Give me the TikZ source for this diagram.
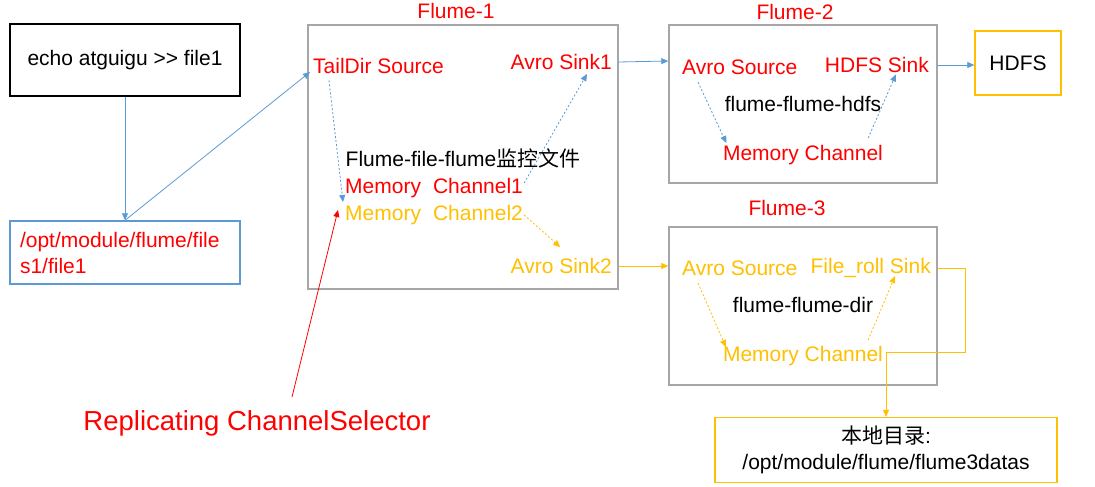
\documentclass[tikz,border=0pt]{standalone}
\usepackage{fontspec}
\setmainfont{Liberation Sans}
\newfontfamily\cjk{Noto Sans CJK SC}
\usetikzlibrary{arrows.meta}
\definecolor{fred}{HTML}{FF0000}
\definecolor{forange}{HTML}{FFC000}
\definecolor{fblue}{HTML}{5B9BD5}
\definecolor{fgray}{HTML}{A6A6A6}
\tikzset{
  lbl/.style={font=\fontsize{21}{26}\selectfont, inner sep=0pt},
  tip/.style={-{Triangle[length=7pt,width=6pt]}},
  bline/.style={draw=fblue, line width=0.8pt, tip},
  oline/.style={draw=forange, line width=0.8pt, tip},
  bdash/.style={bline, dash pattern=on 2pt off 2pt},
  odash/.style={oline, dash pattern=on 2pt off 2pt},
  graybox/.style={draw=fgray, line width=1.4pt, minimum width=#1, inner sep=0pt},
  obox/.style={draw=forange, line width=1.4pt, inner sep=0pt},
}
\begin{document}
\begin{tikzpicture}[x=1pt,y=-1pt]
\useasboundingbox[fill=white] (0,0) rectangle (1095,487);

% left boxes
\node[draw=black, line width=1.1pt, minimum width=230pt, minimum height=72pt, lbl] (echo) at (125,60) {echo atguigu >{}> file1};
\node[draw=fblue, line width=1.4pt, minimum width=230pt, minimum height=63pt, lbl, text=fred, align=left, text width=210pt] (file) at (125,252.5) {/opt/module/flume/file\\s1/file1};

% Flume-1
\node[graybox=310pt, minimum height=264pt] (f1) at (463,157) {};
\node[lbl, text=fred] (f1lab) at (456,11) {Flume-1};
\node[lbl, text=fred, anchor=west] (tail) at (313,66) {TailDir Source};
\node[lbl, text=fred, anchor=east] (as1) at (612,62) {Avro Sink1};
\node[lbl] (f1t) at (463,158) {Flume-file-flume{\cjk 监控文件}};
\node[lbl, text=fred, anchor=west] (mc1) at (345,188) {Memory\hspace{12pt}Channel1};
\node[lbl, text=forange, anchor=west] (mc2) at (345,215) {Memory\hspace{12pt}Channel2};
\node[lbl, text=forange, anchor=east] (as2) at (612,266) {Avro Sink2};

% Flume-2
\node[graybox=268pt, minimum height=158pt] (f2) at (803,104) {};
\node[lbl, text=fred] (f2lab) at (795,12) {Flume-2};
\node[lbl, text=fred, anchor=west] (avs2) at (682,67) {Avro Source};
\node[lbl, text=fred, anchor=east] (hs) at (929,65) {HDFS Sink};
\node[lbl] (f2t) at (803,104) {flume-flume-hdfs};
\node[lbl, text=fred] (mcf2) at (803,155) {Memory Channel};
\node[obox, minimum width=86pt, minimum height=64pt, lbl] (hdfs) at (1018,63) {HDFS};

% Flume-3
\node[graybox=268pt, minimum height=158pt] (f3) at (803,306) {};
\node[lbl, text=fred] (f3lab) at (787,208) {Flume-3};
\node[lbl, text=forange, anchor=west] (avs3) at (682,268) {Avro Source};
\node[lbl, text=forange, anchor=east] (fr) at (931,268) {File\_roll Sink};
\node[lbl] (f3t) at (803,305) {flume-flume-dir};
\node[lbl, text=forange] (mcf3) at (803,356) {Memory Channel};
\node[obox, minimum width=342pt, minimum height=65pt, lbl, align=center] (local) at (886,450) {{\cjk 本地目录}:\\/opt/module/flume/flume3datas};

% selector label
\node[inner sep=0pt, font=\fontsize{27.5}{32}\selectfont, text=fred] (rep) at (257,423) {Replicating ChannelSelector};

% connectors
\draw[bline] (echo.south) -- (file.north);
\draw[bline] (file.north) -- ([shift={(-3,6)}]tail.west);
\draw[bdash] ([shift={(16,6.5)}]tail.south west) -- ([shift={(-2,14)}]mc1.west);
\draw[bdash] ([shift={(1,-5)}]mc1.east) -- ([shift={(-25,12)}]as1.east);
\draw[odash] ([shift={(1,0)}]mc2.east) -- ([shift={(-1,-11)}]as2.north);
\draw[fred, line width=0.8pt, tip] ([shift={(35,-13)}]rep.north) -- ([shift={(-7,-5)}]mc2.west);

\draw[bline] ([xshift=6pt]as1.east) -- ([shift={(0,-43)}]f2.west);
\draw[bline] (hs.east -| f2.east) -- (hs.east -| hdfs.west);
\draw[oline] (as2.east -| f1.east) -- (as2.east -| f3.west);

\draw[bdash] ([shift={(16,7.5)}]avs2.south west) -- ([shift={(3.5,-2)}]mcf2.north west);
\draw[bdash] ([shift={(-15,-7)}]mcf2.north east) -- ([shift={(19,1.5)}]hs.south);
\draw[odash] ([shift={(16,7.5)}]avs3.south west) -- ([shift={(3,1)}]mcf3.north west);
\draw[odash] ([shift={(-15,-6)}]mcf3.north east) -- ([shift={(-36,8)}]fr.east);

\draw[oline] (fr.east -| f3.east) -- ++(28,0) |- ([shift={(0,-4)}]mcf3.east -| local.north) -- (local.north);
\end{tikzpicture}
\end{document}
